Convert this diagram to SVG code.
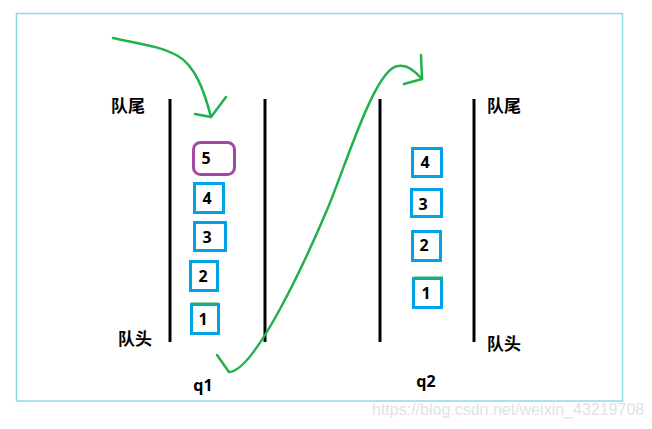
<svg xmlns="http://www.w3.org/2000/svg" width="652" height="429" viewBox="0 0 652 429">
<style>
.wall{stroke:#000;stroke-width:3;fill:none}
.box{fill:#fff;stroke:#00a2e8;stroke-width:3}
.num{font-family:"Noto Sans","DejaVu Sans",sans-serif;font-weight:bold;font-size:16px;fill:#000;text-anchor:middle}
.lbl{font-family:"Noto Sans CJK SC","Noto Sans",sans-serif;font-weight:bold;font-size:17px;fill:#000}
.arrow{stroke:#22b14c;stroke-width:2.5;fill:none;stroke-linecap:round;stroke-linejoin:round}
.top{stroke:#22b14c;stroke-width:2}
</style>
<rect width="652" height="429" fill="#fff"/>
<rect x="16.5" y="13.5" width="606" height="387.5" fill="none" stroke="#8fd8e6" stroke-width="1.5"/>
<g id="q1">
<line class="wall" x1="170" y1="99" x2="170" y2="342"/>
<line class="wall" x1="265" y1="99" x2="265" y2="342"/>
<text class="num" x="203" y="391">q1</text>
</g>
<g id="q2">
<line class="wall" x1="380" y1="99" x2="380" y2="342"/>
<line class="wall" x1="474" y1="99" x2="474" y2="342"/>
<text class="num" x="426" y="387">q2</text>
</g>
<g id="labels">
<text class="lbl" x="111" y="112">队尾</text>
<text class="lbl" x="118" y="345">队头</text>
<text class="lbl" x="487" y="112">队尾</text>
<text class="lbl" x="487" y="350">队头</text>
</g>
<g id="q1-5"><rect x="193.5" y="142.5" width="41" height="32" rx="7" fill="#fff" stroke="#a349a4" stroke-width="3"/><text class="num" x="206" y="164">5</text></g>
<g id="q1-4"><rect class="box" x="194.5" y="183.5" width="29" height="29"/><text class="num" x="207" y="204">4</text></g>
<g id="q1-3"><rect class="box" x="194.5" y="222.5" width="31" height="28"/><text class="num" x="207" y="243">3</text></g>
<g id="q1-2"><rect class="box" x="190.5" y="261.5" width="27" height="29"/><text class="num" x="203" y="282">2</text></g>
<g id="q1-1"><rect class="box" x="191.5" y="304.5" width="27" height="29"/><line class="top" x1="191" y1="303.5" x2="218" y2="303.5"/><text class="num" x="203" y="325">1</text></g>
<g id="q2-4"><rect class="box" x="412.5" y="148.5" width="29" height="28"/><text class="num" x="425" y="168">4</text></g>
<g id="q2-3"><rect class="box" x="411.5" y="189.5" width="30" height="27"/><text class="num" x="423" y="210">3</text></g>
<g id="q2-2"><rect class="box" x="412.5" y="231.5" width="28" height="29"/><text class="num" x="424" y="251">2</text></g>
<g id="q2-1"><rect class="box" x="413.5" y="278.5" width="28" height="29"/><line class="top" x1="414" y1="277.5" x2="443" y2="277.5"/><text class="num" x="426" y="299">1</text></g>
<g id="connectors">
<path class="arrow" d="M113,38 C140,44 160,46 178,56 C195,66 204,90 211,117"/>
<path class="arrow" d="M195,114 L211,117 L226,97"/>
<path class="arrow" d="M217,355 L229,372 C255,372 307.5,256 327,210 C346.5,164 375,68 398,66 C408,64 416,72 422,79"/>
<path class="arrow" d="M421,55 L422,79 L404,84"/>
</g>
<text x="372" y="415" font-family="Liberation Sans, Arial, sans-serif" font-size="16" fill="#e2e2e2">https://blog.csdn.net/weixin_43219708</text>
</svg>
